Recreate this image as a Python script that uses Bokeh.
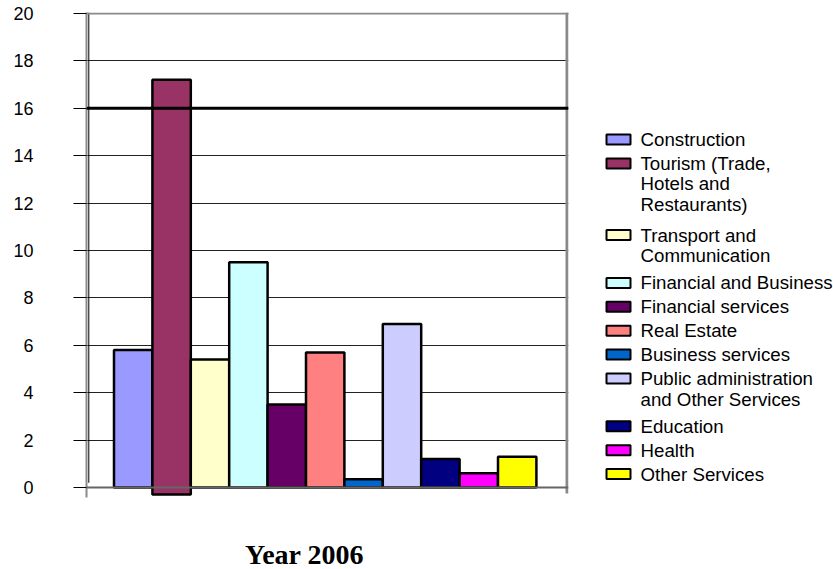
from bokeh.plotting import figure
from bokeh.models import Range1d, FixedTicker, Span, ColumnDataSource
from bokeh.layouts import row, column
from bokeh.embed import file_html
from bokeh.resources import INLINE
from bokeh.core.properties import value

# ---------------- data ----------------
categories = [
    "Construction",
    "Tourism (Trade,\nHotels and\nRestaurants)",
    "Transport and\nCommunication",
    "Financial and Business",
    "Financial services",
    "Real Estate",
    "Business services",
    "Public administration\nand Other Services",
    "Education",
    "Health",
    "Other Services",
]
values = [5.8, 17.2, 5.4, 9.5, 3.5, 5.7, 0.35, 6.9, 1.2, 0.6, 1.3]
bar_bottoms = [0, -0.3, 0, 0, 0, 0, 0, 0, 0, 0, 0]
colors = ["#9999FF", "#993366", "#FFFFCC", "#CCFFFF", "#660066", "#FF8080",
          "#0066CC", "#CCCCFF", "#000080", "#FF00FF", "#FFFF00"]
y_ticks = [0, 2, 4, 6, 8, 10, 12, 14, 16, 18, 20]
x_title = "Year 2006"

# ---------------- layout constants (pixels) ----------------
W_MAIN, W_LEG, W_ALL, H_ALL = 600, 233, 833, 569
H_TOP = 500
FRAME_L, FRAME_R, FRAME_T, FRAME_B = 86, 568, 12, 497
BAR_PX = 38.4           # pixel width of one bar
FIRST_BAR_LEFT = 113.5  # pixel left edge of first bar
Y_PX = 23.7             # pixels per unit on y

x_start = -0.5 - (FIRST_BAR_LEFT - FRAME_L) / BAR_PX
x_end = x_start + (FRAME_R - FRAME_L) / BAR_PX
y_end = 20 + (13 - FRAME_T) / Y_PX
y_start = y_end - (FRAME_B - FRAME_T) / Y_PX

p = figure(width=W_MAIN, height=H_TOP, x_range=Range1d(x_start, x_end),
           y_range=Range1d(y_start, y_end), toolbar_location=None,
           output_backend="svg", min_border_left=FRAME_L,
           min_border_right=W_MAIN - FRAME_R, min_border_top=FRAME_T,
           min_border_bottom=H_TOP - FRAME_B, outline_line_color=None,
           background_fill_color="white", border_fill_color="white")

p.xaxis.visible = False
p.xgrid.visible = False

ya = p.yaxis[0]
ya.ticker = FixedTicker(ticks=y_ticks)
ya.major_tick_out = 13
ya.major_tick_in = 0
ya.minor_tick_out = 0
ya.minor_tick_in = 0
ya.major_tick_line_color = "black"
ya.major_tick_line_width = 1
ya.axis_line_color = "#8a8a8a"
ya.axis_line_width = 2
ya.major_label_standoff = 40
ya.major_label_text_font = "Liberation Sans"
ya.major_label_text_font_size = "18px"
ya.major_label_text_color = "black"

p.ygrid.ticker = FixedTicker(ticks=y_ticks[1:])
p.ygrid.grid_line_color = "#222222"
p.ygrid.grid_line_width = 1

# thick line at 16, gray top border at 20, zero line
p.add_layout(Span(location=16, dimension="width", line_color="black", line_width=3))
p.add_layout(Span(location=20, dimension="width", line_color="#8a8a8a", line_width=2))
p.add_layout(Span(location=0, dimension="width", line_color="#666666", line_width=2))

# right border and inner left line
p.segment(x0=[x_end - 1.5 / BAR_PX], y0=[-0.25], x1=[x_end - 1.5 / BAR_PX], y1=[y_end],
          line_color="#8a8a8a", line_width=3)
p.segment(x0=[x_start + 2.3 / BAR_PX], y0=[0.2], x1=[x_start + 2.3 / BAR_PX], y1=[y_end],
          line_color="black", line_width=1)

src = ColumnDataSource(dict(x=list(range(len(values))), top=values,
                            bottom=bar_bottoms, color=colors))
p.vbar(x="x", top="top", bottom="bottom", width=1, source=src,
       fill_color="color", line_color="black", line_width=2.5)

# ---------------- legend panel (pixel coordinates) ----------------
leg = figure(width=W_LEG, height=H_TOP, x_range=Range1d(0, W_LEG),
             y_range=Range1d(FRAME_B, FRAME_T),
             toolbar_location=None, output_backend="svg",
             min_border_left=0, min_border_right=0,
             min_border_top=FRAME_T, min_border_bottom=H_TOP - FRAME_B,
             outline_line_color=None)
leg.axis.visible = False
leg.grid.visible = False

sw_y, lx, ly, lt = [], [], [], []
y = 139.0
for lab in categories:
    lines = lab.split("\n")
    sw_y.append(y)
    for i, ln in enumerate(lines):
        lx.append(40)
        ly.append(y + i * 20.5)
        lt.append(ln)
    y += 23.9 * len(lines)

leg.rect(x=[18] * len(colors), y=sw_y, width=24, height=10, fill_color=colors,
         line_color="black", line_width=2)
leg.text(x=lx, y=ly, text=lt, text_font=value("Liberation Sans"), text_font_size="18.7px",
         text_baseline="middle", text_align="left", text_color="black")

# ---------------- bottom title strip ----------------
bot = figure(width=W_ALL, height=H_ALL - H_TOP, x_range=Range1d(0, W_ALL),
             y_range=Range1d(H_ALL, H_TOP), toolbar_location=None,
             output_backend="svg", min_border=0, outline_line_color=None)
bot.axis.visible = False
bot.grid.visible = False
bot.text(x=[304], y=[554], text=[x_title], text_font=value("Liberation Serif"),
         text_font_style="bold", text_font_size="28px", text_align="center",
         text_baseline="middle", text_color="black")

layout = column(row(p, leg, spacing=0), bot, spacing=0)
open("out.html", "w").write(file_html(layout, INLINE))
